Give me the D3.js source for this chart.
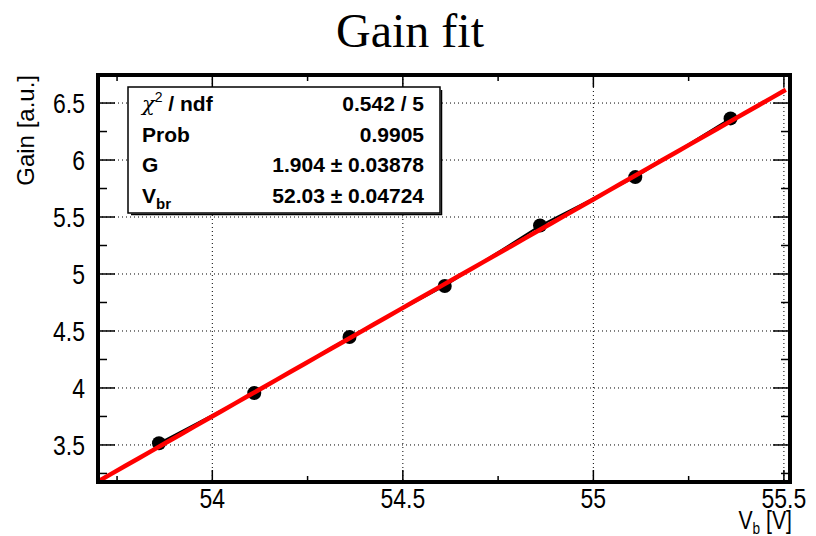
<!DOCTYPE html>
<html>
<head>
<meta charset="utf-8">
<script src="https://cdn.jsdelivr.net/npm/d3@7"></script>
<style>
  body { margin: 0; background: #fff; }
  svg { display: block; }
</style>
</head>
<body>
<svg id="chart" width="816" height="536"></svg>
<script>
// measured points of the gain vs bias voltage scan
const voltages = [53.86, 54.11, 54.36, 54.61, 54.86, 55.11, 55.36];
const gains = [3.515, 3.955, 4.447, 4.895, 5.425, 5.85, 6.365];
const gainErrors = [0.035, 0.035, 0.035, 0.035, 0.04, 0.04, 0.05];

// linear fit G * (V - Vbr)
const fitG = 1.904;
const fitVbr = 52.03;
const fitRange = [53.70, 55.505];

const xTicks = [54, 54.5, 55, 55.5];
const yTicks = [3.5, 4, 4.5, 5, 5.5, 6, 6.5];
const statsRows = [
    ["chi", "0.542 / 5"],
    ["Prob", "0.9905"],
    ["G", "1.904 \u00b1 0.03878"],
    ["Vbr", "52.03 \u00b1 0.04724"]
];

const svg = d3.select("#chart");
const fLeft = 98, fRight = 790, fTop = 75, fBottom = 482;
const sans = "Liberation Sans, Arial, sans-serif";

let x = d3.scaleLinear().domain([53.70, 55.516]).range([fLeft, fRight]);
let y = d3.scaleLinear().domain([3.175, 6.746]).range([fBottom, fTop]);

let xMinor = d3.range(53.75, 55.51, 0.25);
let yMinor = d3.range(3.25, 6.751, 0.25);

// dotted grid at the major ticks
let grid = svg.append("g")
    .attr("stroke", "#000")
    .attr("stroke-width", 1)
    .attr("stroke-dasharray", "1,3");
grid.selectAll(".gx").data(xTicks).enter().append("line")
    .attr("x1", d => x(d)).attr("x2", d => x(d))
    .attr("y1", fTop).attr("y2", fBottom);
grid.selectAll(".gy").data(yTicks).enter().append("line")
    .attr("x1", fLeft).attr("x2", fRight)
    .attr("y1", d => y(d)).attr("y2", d => y(d));

// ticks on all four sides, pointing inward
let ticks = svg.append("g").attr("stroke", "#000").attr("stroke-width", 1.5);
xMinor.forEach(v => {
    let major = xTicks.some(t => Math.abs(t - v) < 1e-6);
    let len = major ? 12 : 6;
    ticks.append("line").attr("x1", x(v)).attr("x2", x(v))
        .attr("y1", fBottom).attr("y2", fBottom - len);
    ticks.append("line").attr("x1", x(v)).attr("x2", x(v))
        .attr("y1", fTop).attr("y2", fTop + len);
});
yMinor.forEach(v => {
    let major = yTicks.some(t => Math.abs(t - v) < 1e-6);
    let len = major ? 17 : 9;
    ticks.append("line").attr("y1", y(v)).attr("y2", y(v))
        .attr("x1", fLeft).attr("x2", fLeft + len);
    ticks.append("line").attr("y1", y(v)).attr("y2", y(v))
        .attr("x1", fRight).attr("x2", fRight - len);
});

// tick labels (the original font is a bit narrow, so squeeze horizontally)
svg.append("g").selectAll("text").data(xTicks).enter().append("text")
    .attr("transform", d => "translate(" + x(d) + ",508) scale(0.82,1)")
    .attr("text-anchor", "middle")
    .attr("font-family", sans)
    .attr("font-size", 28)
    .text(d => d);
svg.append("g").selectAll("text").data(yTicks).enter().append("text")
    .attr("transform", d => "translate(85," + (y(d) + 10) + ") scale(0.82,1)")
    .attr("text-anchor", "end")
    .attr("font-family", sans)
    .attr("font-size", 28)
    .text(d => d);

let xTitle = svg.append("text")
    .attr("transform", "translate(792,529) scale(0.85,1)")
    .attr("text-anchor", "end")
    .attr("font-family", sans)
    .attr("font-size", 25);
xTitle.append("tspan").text("V");
xTitle.append("tspan").attr("font-size", 16).attr("dy", 5).text("b");
xTitle.append("tspan").attr("dy", -5).text(" [V]");

svg.append("text")
    .attr("transform", "translate(34,75) rotate(-90)")
    .attr("text-anchor", "end")
    .attr("font-family", sans)
    .attr("font-size", 24)
    .text("Gain [a.u.]");

// title
svg.append("text")
    .attr("x", 410).attr("y", 47)
    .attr("text-anchor", "middle")
    .attr("font-family", "Liberation Serif, Times New Roman, serif")
    .attr("font-size", 48)
    .text("Gain fit");

// data graph: connecting line, error bars, markers
let pts = voltages.map((v, i) => ({ v: v, g: gains[i], e: gainErrors[i] }));
let plot = svg.append("g");
plot.append("path").datum(pts)
    .attr("fill", "none").attr("stroke", "#000").attr("stroke-width", 2)
    .attr("d", d3.line().x(d => x(d.v)).y(d => y(d.g)));
plot.selectAll(".err").data(pts).enter().append("line")
    .attr("x1", d => x(d.v)).attr("x2", d => x(d.v))
    .attr("y1", d => y(d.g - d.e)).attr("y2", d => y(d.g + d.e))
    .attr("stroke", "#000").attr("stroke-width", 3);
plot.selectAll("circle").data(pts).enter().append("circle")
    .attr("cx", d => x(d.v)).attr("cy", d => y(d.g))
    .attr("r", 7).attr("fill", "#000");

// fit function
let fitPts = d3.range(fitRange[0], fitRange[1] + 1e-9, (fitRange[1] - fitRange[0]) / 50)
    .map(v => ({ v: v, g: fitG * (v - fitVbr) }));
plot.append("path").datum(fitPts)
    .attr("fill", "none").attr("stroke", "#ff0000").attr("stroke-width", 4.5)
    .attr("d", d3.line().x(d => x(d.v)).y(d => y(d.g)));

// stats box with a small shadow on the right and bottom
let bx = 128, by = 87, bw = 312, bh = 126;
svg.append("rect")
    .attr("x", bx).attr("y", by).attr("width", bw).attr("height", bh)
    .attr("fill", "#fff").attr("stroke", "#000").attr("stroke-width", 1.5);
svg.append("path")
    .attr("d", "M" + (bx + 3) + "," + (by + bh + 1.5) + "H" + (bx + bw + 1.5) + "V" + (by + 3))
    .attr("fill", "none").attr("stroke", "#000").attr("stroke-width", 1.5);

statsRows.forEach((r, i) => {
    let ty = by + 24 + i * 30.7;
    let lab = svg.append("text")
        .attr("x", bx + 14).attr("y", ty)
        .attr("font-family", sans).attr("font-size", 21).attr("font-weight", "bold");
    if (r[0] === "chi") {
        lab.append("tspan").attr("font-weight", "normal")
            .attr("font-family", "DejaVu Serif, serif").attr("font-style", "italic").text("\u03c7");
        lab.append("tspan").attr("font-size", 14).attr("font-weight", "normal").attr("dy", -9).text("2");
        lab.append("tspan").attr("dy", 9).text(" / ndf");
    } else if (r[0] === "Vbr") {
        lab.append("tspan").text("V");
        lab.append("tspan").attr("font-size", 15).attr("dy", 6).text("br");
    } else {
        lab.text(r[0]);
    }
    svg.append("text")
        .attr("x", bx + bw - 16).attr("y", ty)
        .attr("text-anchor", "end")
        .attr("font-family", sans).attr("font-size", 21).attr("font-weight", "bold")
        .text(r[1]);
});

// frame
svg.append("rect")
    .attr("x", fLeft).attr("y", fTop)
    .attr("width", fRight - fLeft).attr("height", fBottom - fTop)
    .attr("fill", "none").attr("stroke", "#000").attr("stroke-width", 4);
</script>
</body>
</html>
